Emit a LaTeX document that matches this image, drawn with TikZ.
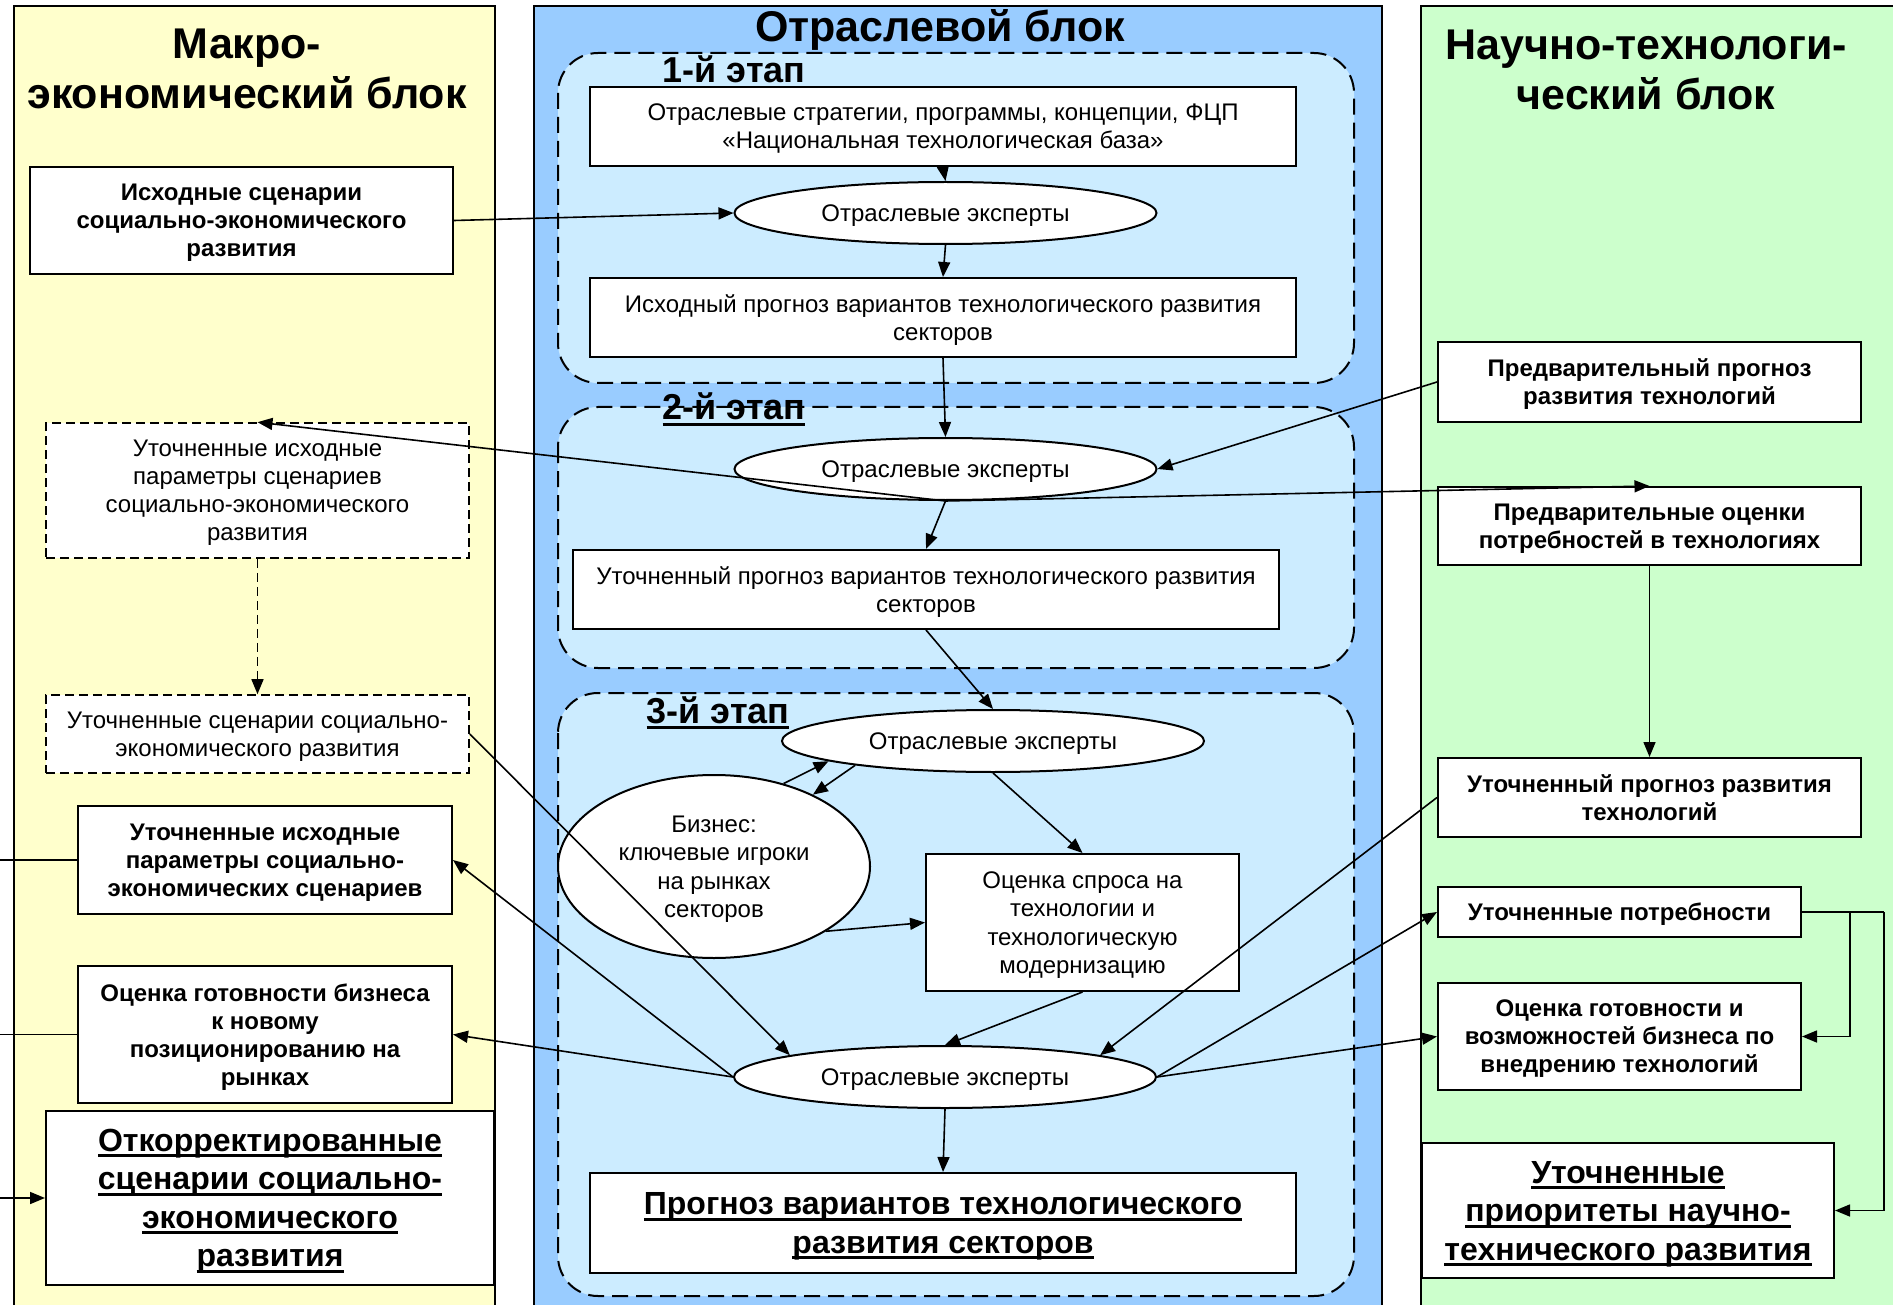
\documentclass[tikz,border=0pt]{standalone}
\usepackage{fontspec}
\setmainfont{Liberation Sans}
\usepackage{tikz}
\usetikzlibrary{shapes.geometric, arrows.meta}
\newsavebox\ulinbox
\newcommand{\ulin}[1]{\sbox\ulinbox{#1}\rlap{\rule[-6pt]{\wd\ulinbox}{3pt}}\usebox\ulinbox}
\definecolor{macroyellow}{HTML}{FFFFCC}
\definecolor{branchblue}{HTML}{99CCFF}
\definecolor{stageblue}{HTML}{CCECFF}
\definecolor{scigreen}{HTML}{CCFFCC}

\begin{document}
\begin{tikzpicture}[x=1pt, y=-1pt,
        every node/.style={font=\fontsize{24}{28}\selectfont, align=center, inner sep=0pt},
        block/.style={draw, line width=2pt},
        stage/.style={draw, fill=stageblue, line width=2pt, dash pattern=on 16pt off 8pt, rounded corners=40pt},
        box/.style={draw, fill=white, rectangle, line width=2pt, text depth=-6pt},
        dbox/.style={draw, fill=white, rectangle, line width=1.6pt, dash pattern=on 9pt off 5pt, text depth=-6pt},
        expert/.style={draw, fill=white, ellipse, line width=2pt, minimum width=422pt, minimum height=62pt, text depth=-6pt},
        bold/.style={font=\fontsize{24}{28}\selectfont\bfseries},
        result/.style={font=\fontsize{32}{38.5}\selectfont\bfseries},
        title/.style={font=\fontsize{43}{50}\selectfont\bfseries},
        stagelabel/.style={font=\fontsize{36}{40}\selectfont\bfseries, anchor=base},
        link/.style={line width=1.6pt, -{Triangle[length=15pt, width=12pt]}},
        wire/.style={line width=1.6pt}
    ]
    \useasboundingbox (0,0) rectangle (1893,1305);
    \clip (0,0) rectangle (1893,1305);

    % Blocks
    \filldraw[block, fill=macroyellow] (14,6) rectangle (495,1330);
    \filldraw[block, fill=branchblue] (534,6) rectangle (1382,1330);
    \filldraw[block, fill=scigreen] (1421,6) rectangle (1920,1330);
    \node[title] (macrotitle) at (247,69) {Макро-\\экономический блок};
    \node[title, anchor=base] (branchtitle) at (940,42) {Отраслевой блок};
    \node[title] (scititle) at (1646,70) {Научно-технологи-\\ческий блок};

    % Stages
    \filldraw[stage] (558,53) rectangle (1354,383);
    \filldraw[stage] (558,407) rectangle (1354,668);
    \filldraw[stage] (558,693) rectangle (1354,1296);
    \node[stagelabel] (st1) at (734,83) {1-й этап};
    \node[stagelabel] (st2) at (734,420) {\ulin{2-й этап}};
    \node[stagelabel] (st3) at (718,723) {\ulin{3-й этап}};

    % Macroeconomic block
    \node[box, bold, minimum width=423pt, minimum height=107pt] (l1) at (241.5,220.5) {Исходные сценарии\\социально-экономического\\развития};
    \node[dbox, minimum width=423pt, minimum height=135pt] (l2) at (257.5,490.5) {Уточненные исходные\\параметры сценариев\\социально-экономического\\развития};
    \node[dbox, minimum width=423pt, minimum height=78pt] (l3) at (257.5,734) {Уточненные сценарии социально-\\экономического развития};
    \node[box, bold, minimum width=374pt, minimum height=108pt] (l4) at (265,860) {Уточненные исходные\\параметры социально-\\экономических сценариев};
    \node[box, bold, minimum width=374pt, minimum height=137pt] (l5) at (265,1034.5) {Оценка готовности бизнеса\\к новому\\позиционированию на\\рынках};
    \node[box, result, minimum width=448pt, minimum height=174pt] (l6) at (270,1198) {\ulin{Откорректированные}\\\ulin{сценарии социально-}\\\ulin{экономического}\\\ulin{развития}};

    % Branch block
    \node[box, minimum width=706pt, minimum height=79pt] (b1) at (943,126.5) {Отраслевые стратегии, программы, концепции, ФЦП\\«Национальная технологическая база»};
    \node[expert] (e1) at (945.5,213) {Отраслевые эксперты};
    \node[box, minimum width=706pt, minimum height=79pt] (b2) at (943,317.5) {Исходный прогноз вариантов технологического развития\\секторов};
    \node[expert] (e2) at (945.5,469) {Отраслевые эксперты};
    \node[box, minimum width=706pt, minimum height=79pt] (b3) at (926,589.5) {Уточненный прогноз вариантов технологического развития\\секторов};
    \node[expert] (e3) at (993,741) {Отраслевые эксперты};
    \node[expert, minimum width=312pt, minimum height=183pt, font=\fontsize{24}{28.5}\selectfont] (biz) at (714,866.5) {Бизнес:\\ключевые игроки\\на рынках\\секторов};
    \node[box, minimum width=313pt, minimum height=137pt, font=\fontsize{24}{28.5}\selectfont] (dem) at (1082.5,922.5) {Оценка спроса на\\технологии и\\технологическую\\модернизацию};
    \node[expert] (e4) at (945,1077) {Отраслевые эксперты};
    \node[box, result, minimum width=706pt, minimum height=100pt] (fin) at (943,1223) {\ulin{Прогноз вариантов технологического}\\\ulin{развития секторов}};

    % Science and technology block
    \node[box, bold, minimum width=423pt, minimum height=80pt] (r1) at (1649.5,382) {Предварительный прогноз\\развития технологий};
    \node[box, bold, minimum width=423pt, minimum height=78pt] (r2) at (1649.5,526) {Предварительные оценки\\потребностей в технологиях};
    \node[box, bold, minimum width=423pt, minimum height=79pt] (r3) at (1649.5,797.5) {Уточненный прогноз развития\\технологий};
    \node[box, bold, minimum width=363pt, minimum height=50pt] (r4) at (1619.5,912) {Уточненные потребности};
    \node[box, bold, minimum width=363pt, minimum height=107pt] (r5) at (1619.5,1036.5) {Оценка готовности и\\возможностей бизнеса по\\внедрению технологий};
    \node[box, result, minimum width=412pt, minimum height=135pt] (r6) at (1628,1210.5) {\ulin{Уточненные}\\\ulin{приоритеты научно-}\\\ulin{технического развития}};

    % Stage 1
    \draw[link] (l1.east) -- (e1.west);
    \draw[link] (b1.south) -- (e1.north);
    \draw[link] (e1.south) -- (b2.north);
    \draw[link] (b2.south) -- (e2.north);

    % Stage 2
    \draw[link] (r1.west) -- (e2.east);
    \draw[link] (e2.south) -- (l2.north);
    \draw[link] (e2.south) -- (r2.north);
    \draw[link] (e2.south) -- (b3.north);
    \draw[link, dash pattern=on 9pt off 5pt] (l2.south) -- (l3.north);
    \draw[link] (r2.south) -- (r3.north);

    % Stage 3
    \draw[link] (b3.south) -- (e3.north);
    \draw[link] (biz.50) -- (e3.187);
    \draw[link] (e3.190) -- (biz.36);
    \draw[link] (e3.south) -- (dem.north);
    \draw[link] (biz.-30) -- (dem.west);
    \draw[link] (dem.south) -- (e4.north);
    \draw[link] (l3.east) -- (e4.172);
    \draw[link] (r3.west) -- (e4.8);
    \draw[link] (e4.west) -- (l4.east);
    \draw[link] (e4.west) -- (l5.east);
    \draw[link] (e4.east) -- (r4.west);
    \draw[link] (e4.east) -- (r5.west);
    \draw[link] (e4.south) -- (fin.north);

    % Results
    \draw[wire] (r4.east) -- ++(48,0) coordinate (jn1) -- ++(34,0) coordinate (jn2);
    \draw[link] (jn1) |- (r5.east);
    \draw[link] (jn2) |- (r6.east);
    \draw[link] (l4.west) -- ++(-100,0) |- (l6.west);
    \draw[wire] (l5.west) -- ++(-100,0);
\end{tikzpicture}
\end{document}
